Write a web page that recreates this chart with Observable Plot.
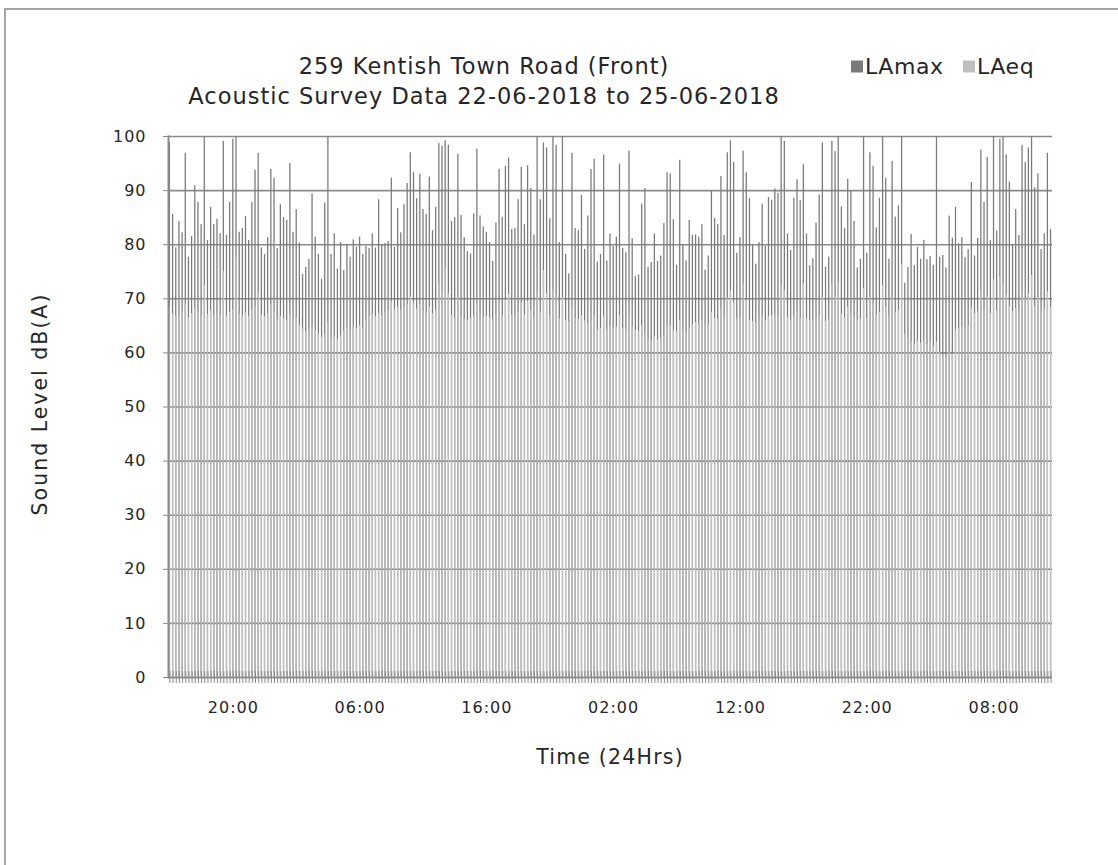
<!DOCTYPE html>
<html>
<head>
<meta charset="utf-8">
<script src="https://cdn.jsdelivr.net/npm/d3@7"></script>
<script src="https://cdn.jsdelivr.net/npm/@observablehq/plot@0.6"></script>
<style>
  html, body { margin: 0; padding: 0; background: #fff; overflow: hidden; }
  #wrap { position: relative; width: 1118px; height: 865px; overflow: hidden;
          font-family: "DejaVu Sans", sans-serif; color: #262626; }
  #border { position: absolute; left: 4px; top: 8px; width: 1200px; height: 1000px;
            border-top: 2px solid #a6a6a6; border-left: 2px solid #a6a6a6; }
  .t { position: absolute; white-space: nowrap; transform: translate(-50%, -50%); }
  .title { font-size: 22.5px; letter-spacing: 1px; }
  .axt { font-size: 20.5px; letter-spacing: 1.2px; }
  .leg { position: absolute; top: 66px; transform: translateY(-50%); display: flex; align-items: center;
         font-size: 22px; letter-spacing: 0.6px; white-space: nowrap; }
  .sw { width: 12px; height: 12px; margin-right: 2px; }
  #chart { position: absolute; left: 0; top: 0; }
</style>
</head>
<body>
<div id="wrap">
  <div id="border"></div>
  <div id="chart"></div>
  <div class="t title" style="left:484px; top:66px;">259 Kentish Town Road (Front)</div>
  <div class="t title" style="left:484px; top:96px;">Acoustic Survey Data 22-06-2018 to 25-06-2018</div>
  <div id="legend"></div>
  <div class="t axt" style="left:40px; top:404px; letter-spacing:2px; transform: translate(-50%,-50%) rotate(-90deg);">Sound Level dB(A)</div>
  <div class="t axt" style="left:610px; top:757px;">Time (24Hrs)</div>
</div>
<script>
// ---- data (15-minute intervals starting 22-06-2018 15:00) ----
const seriesNames = ["LAmax", "LAeq"];
const seriesColors = ["#7a7a7a", "#bfbfbf"];
const startTime = Date.UTC(2018, 5, 22, 15, 0);
const stepMinutes = 15;
const yTicks = [0, 10, 20, 30, 40, 50, 60, 70, 80, 90, 100];
const xTickLabels = ["20:00", "06:00", "16:00", "02:00", "12:00", "22:00", "08:00"];

const lamax = [
  98.9, 85.6, 79.4, 84.3, 82.2, 96.9, 77.7, 81.5, 90.9, 87.8,
  83.7, 101, 80.8, 86.9, 83.7, 84.7, 82.0, 99.1, 81.7, 87.8,
  99.5, 102, 82.3, 83.0, 85.2, 80.8, 87.8, 93.8, 96.9, 79.4,
  78.2, 81.3, 93.9, 92.3, 79.3, 87.4, 85.0, 84.5, 95.0, 82.3,
  86.5, 80.3, 74.5, 75.8, 77.3, 89.4, 81.4, 78.2, 73.6, 87.7,
  103, 78.2, 82.0, 75.5, 80.4, 75.2, 80.0, 77.7, 80.9, 79.6,
  81.4, 78.2, 79.7, 79.3, 82.0, 79.4, 88.3, 80.0, 80.2, 80.6,
  92.3, 79.5, 86.7, 82.2, 87.4, 91.3, 97.0, 93.3, 88.5, 93.0,
  86.5, 85.6, 92.5, 82.6, 86.9, 98.7, 98.2, 99.2, 98.4,
  84.3, 85.0, 96.7, 85.4, 81.3, 78.7, 78.3, 85.7, 97.7, 85.3,
  83.3, 82.3, 80.4, 76.9, 84.0, 93.9, 85.1, 94.5, 96.0, 82.8,
  83.0, 88.3, 94.3, 83.7, 94.6, 90.4, 81.8, 101, 88.3, 98.8,
  97.9, 84.8, 102, 98.4, 80.4, 101, 78.2, 74.6, 96.9, 83.0,
  82.6, 89.1, 79.1, 85.3, 93.9, 95.8, 76.8, 78.2, 96.6, 77.0,
  82.0, 79.7, 81.4, 94.9, 79.3, 78.5, 97.3, 81.1, 74.1, 74.4,
  87.5, 90.4, 75.8, 76.7, 82.0, 76.9, 77.9, 83.9, 93.3, 93.1,
  84.6, 76.2, 95.6, 80.0, 77.0, 84.5, 81.7, 81.8, 81.4, 83.7,
  75.3, 77.9, 90.0, 84.8, 83.7, 92.6, 81.7, 97.0, 99.2, 95.2,
  78.4,
  81.3, 97.3, 93.3, 88.5, 80.0, 76.4, 80.4, 87.5, 79.7, 88.7,
  88.2, 90.3, 89.5, 101, 99.1, 82.0, 78.9, 88.6, 92.0, 88.2,
  94.8, 82.0, 76.1, 77.4, 84.0, 89.2, 98.8, 75.8, 77.7, 99.1,
  97.2, 102, 87.0, 83.0, 92.1, 89.9, 84.3, 75.7, 77.3, 101,
  78.4, 97.0, 94.5, 83.1, 88.6, 103, 92.3, 77.3, 95.4, 85.1,
  87.2, 101, 72.9, 75.8, 81.9, 76.1, 79.5, 77.3, 80.8, 77.2,
  77.8, 76.2, 102, 77.7, 78.0, 75.7, 85.3, 81.2, 86.9, 80.2,
  81.3, 77.6, 79.1, 91.5, 77.9, 81.2, 97.5, 87.8, 96.1, 80.8,
  101, 82.5, 99.5, 102, 96.6, 91.6, 80.0, 86.5, 81.7, 98.4,
  95.2, 97.9, 101, 90.5, 93.1, 79.1, 82.0, 96.9, 82.8
];

const laeq = [
  68.5, 67.2, 66.8, 67.1, 67.9, 69.0, 66.5, 67.3, 68.2, 67.6, 67.0,
  72.5, 67.1, 67.8, 66.9, 67.3, 67.0, 75.0, 66.8, 67.5, 68.0, 77.6, 67.2, 66.9, 67.4, 66.8,
  67.9, 68.5, 71.0, 67.0, 66.7, 67.2, 68.8,
  67.5, 66.2, 66.8, 66.4, 66.0, 67.1, 66.3, 66.5,
  65.0, 64.4, 64.1, 64.6, 64.9, 64.2,
  63.5, 62.9, 63.4, 65.5, 62.8, 63.0, 62.5, 63.1,
  64.0, 64.6, 64.2, 64.8, 64.5, 65.0, 64.6,
  66.2, 66.8, 67.1, 66.7, 67.3, 66.9, 67.4,
  67.8, 69.5, 68.0, 68.4, 67.9, 68.3, 69.0, 70.5, 69.2, 68.1, 69.0,
  67.6, 67.3, 68.5, 67.2, 67.8, 72.8, 71.5, 75.8, 71.0,
  66.9, 66.5, 70.4, 66.7, 66.2, 66.0, 66.4, 66.8,
  69.2, 67.0, 66.6, 66.8, 66.5, 66.2, 67.1, 69.5, 66.9,
  69.8, 70.8, 67.0, 66.8, 67.5, 69.3, 67.0, 69.5, 68.0, 66.7, 71.2, 67.4, 75.2, 71.0, 66.9, 71.5,
  70.6, 66.3, 70.2, 66.0, 65.8, 68.5, 66.4, 66.2, 66.9, 65.9, 65.4,
  66.1, 67.0, 64.3, 64.5, 66.8, 64.2, 64.9, 64.6,
  64.8, 66.9, 64.5, 64.3, 67.2, 64.8, 64.2, 64.0, 64.9,
  63.8, 62.6, 62.3, 63.0, 62.4, 62.8, 63.1, 64.8,
  65.0, 64.1, 63.9, 66.0, 64.2, 63.8, 64.5,
  65.2, 65.6, 65.4, 66.0, 65.1, 65.3,
  67.5, 66.4, 66.2, 68.1, 66.5, 70.0, 71.5, 69.3, 66.3, 66.6, 72.8, 69.7,
  66.0, 65.8, 65.5, 66.2, 66.8, 65.9, 66.7,
  66.9, 67.0, 66.8, 72.4, 71.6, 66.5, 66.1, 66.8, 67.5, 66.4, 72.8,
  66.3, 65.9, 66.0, 66.4, 67.0, 70.2, 65.8, 66.1, 72.8, 70.5, 73.0,
  67.1, 66.5, 68.4, 67.2, 66.6, 66.0, 66.3, 71.9, 66.4, 70.3, 69.1,
  67.0, 67.5, 72.5, 68.6, 66.8, 70.1, 67.5, 67.9, 76.4, 63.5,
  62.8, 62.0, 61.6, 62.2, 61.8, 62.1, 61.5, 61.9, 61.2,
  62.0, 60.1, 59.6, 59.3, 60.2, 59.8,
  64.2, 64.5, 64.9, 64.6, 65.0,
  68.3, 67.2, 67.6, 71.5, 67.9, 70.4, 67.3, 73.5, 67.8, 74.0, 72.9, 70.8,
  68.5, 67.6, 68.2, 67.7, 71.2, 70.0, 70.9, 74.3, 68.6, 70.2, 67.9, 68.1, 71.3, 68.4
];

// ---- build table ----
const n = Math.min(lamax.length, laeq.length);
const times = d3.range(n).map(i => new Date(startTime + i * stepMinutes * 60000));
const data = times.map((t, i) => ({t, max: lamax[i], eq: laeq[i]}));
const fmt = d3.utcFormat("%H:%M");
const labelTimes = times.filter(t => xTickLabels.includes(fmt(t)) && ((t - startTime) / 60000 / stepMinutes) % 40 === 20);

const gridColor = "#8a8a8a";

const chart = Plot.plot({
  width: 1118,
  height: 865,
  marginLeft: 168,
  marginRight: 66,
  marginTop: 136,
  marginBottom: 188,
  style: {fontFamily: "DejaVu Sans", fontSize: "16px", letterSpacing: "1px", color: "#262626", background: "transparent", overflow: "visible"},
  x: {type: "band", domain: times, paddingInner: 0.6, paddingOuter: 0.25},
  y: {domain: [0, 100]},
  marks: [
    Plot.gridY(yTicks, {stroke: gridColor, strokeOpacity: 1, strokeWidth: 1.6}),
    Plot.barY(data, {x: "t", y: "max", fill: seriesColors[0], clip: true}),
    Plot.barY(data, {x: "t", y: "eq", fill: seriesColors[1], clip: true}),
    Plot.ruleY([0], {stroke: gridColor, strokeWidth: 1.6}),
    Plot.frame({anchor: "left", stroke: gridColor, strokeWidth: 2}),
    Plot.axisY({ticks: yTicks, tickSize: 5, tickPadding: 17, stroke: gridColor, strokeOpacity: 1, label: null}),
    Plot.axisX({ticks: times, tickSize: 12, dy: -6, tickFormat: () => "", stroke: gridColor, strokeOpacity: 1, label: null}),
    Plot.axisX({ticks: labelTimes, tickSize: 0, tickPadding: 24, tickFormat: fmt, label: null})
  ]
});
document.getElementById("chart").appendChild(chart);

// legend
const legendX = [851, 963];
const legend = document.getElementById("legend");
seriesNames.forEach((name, i) => {
  const item = document.createElement("div");
  item.className = "leg";
  item.style.left = legendX[i] + "px";
  const sw = document.createElement("div");
  sw.className = "sw";
  sw.style.background = seriesColors[i];
  const tx = document.createElement("span");
  tx.textContent = name;
  item.appendChild(sw);
  item.appendChild(tx);
  legend.appendChild(item);
});
</script>
</body>
</html>
